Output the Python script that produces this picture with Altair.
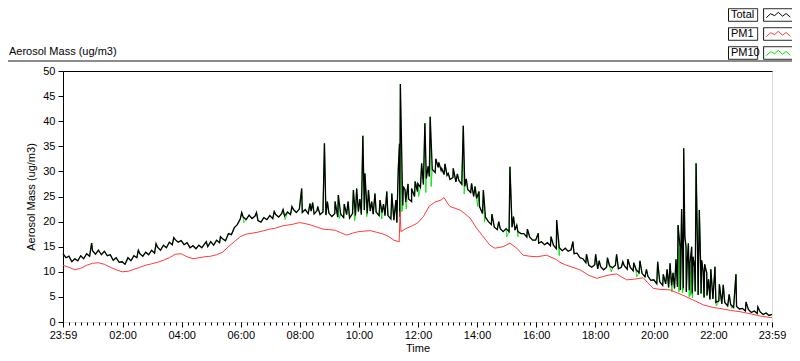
import altair as alt
import pandas as pd

# time axis: hours after 23:59 of the previous day (0 .. 24)
base_hours = [round(i * 0.1, 1) for i in range(241)]

total_base = [
    13.6, 12.8, 13.1, 12.0, 12.6, 12.2, 13.2, 12.6, 13.6, 13.1,
    14.2, 13.5, 14.3, 13.4, 14.1, 13.2, 13.4, 12.3, 12.8, 11.9,
    12.0, 11.5, 12.8, 12.2, 13.2, 12.8, 13.6, 13.1, 13.9, 13.4,
    14.3, 13.7, 14.9, 14.3, 15.3, 14.8, 15.9, 15.4, 16.4, 15.9,
    16.2, 15.4, 15.8, 14.8, 15.2, 14.6, 15.3, 14.8, 15.6, 15.0,
    16.0, 15.3, 16.3, 15.8, 16.6, 16.2, 17.6, 17.4, 18.8, 19.4,
    20.5, 20.9, 20.4, 21.3, 20.6, 21.1, 20.2, 19.9, 20.8, 20.4,
    21.2, 20.6, 21.4, 20.9, 21.6, 21.1, 21.9, 21.4, 22.4, 21.8,
    22.5, 21.8, 22.4, 21.6, 22.1, 21.5, 22.2, 21.4, 21.9, 21.3,
    21.7, 21.0, 21.6, 20.9, 21.5, 20.8, 21.4, 20.7, 21.6, 21.2,
    22.0, 21.4, 22.3, 21.6, 22.1, 21.5, 21.9, 21.2, 21.8, 21.2,
    21.2, 20.5, 20.3, 19.8, 21.0, 23.2, 23.9, 24.5, 24.0, 25.0,
    26.0, 26.8, 27.4, 28.6, 29.0, 30.4, 29.8, 30.8, 30.2, 29.4,
    29.2, 28.4, 28.8, 27.9, 28.2, 27.4, 27.0, 26.4, 25.8, 25.0,
    24.6, 23.0, 21.6, 20.9, 20.0, 19.4, 18.9, 18.4, 18.6, 18.0,
    18.6, 18.0, 18.9, 18.3, 18.0, 17.6, 17.6, 16.9, 16.9, 16.3,
    16.3, 15.7, 16.0, 15.4, 15.8, 15.2, 15.3, 14.6, 14.8, 14.2,
    14.7, 14.1, 14.4, 13.6, 13.7, 12.8, 12.6, 11.8, 11.3, 10.9,
    11.4, 10.6, 11.0, 10.4, 10.9, 11.2, 10.8, 11.3, 10.6, 10.9,
    11.2, 10.5, 10.9, 10.2, 10.4, 9.8, 9.7, 9.0, 9.1, 8.3,
    8.4, 7.6, 8.0, 7.3, 7.6, 6.9, 7.3, 6.7, 7.0, 6.4,
    6.7, 6.0, 6.4, 5.7, 6.1, 5.4, 5.7, 4.9, 5.3, 4.5,
    4.6, 3.9, 4.2, 3.6, 3.9, 3.2, 3.5, 2.9, 3.1, 2.6,
    2.7, 2.2, 2.5, 1.9, 2.2, 1.7, 2.0, 1.5, 1.8, 1.3,
    1.5,
]

spike_hours = [
    0.97, 2.55, 3.15, 3.75, 4.85, 5.33, 6.05, 6.55, 7.15, 7.45, 7.75,
    8.08, 8.36, 8.45, 8.62, 8.85, 8.95, 9.21, 9.32, 9.52, 9.65,
    9.83, 9.94, 10.05, 10.15, 10.22, 10.34, 10.45, 10.56, 10.73, 10.85,
    10.96, 11.13, 11.27, 11.35, 11.39, 11.42, 11.52, 11.58, 11.68, 11.8,
    11.92, 12.01, 12.14, 12.25, 12.36, 12.43, 12.62, 12.72, 12.82, 12.93,
    13.04, 13.21, 13.35, 13.55, 13.65, 13.83, 13.95, 14.08, 14.23, 14.52,
    14.75, 15.13, 15.25, 15.36, 15.72, 16.09, 16.52, 16.71,
    17.26, 17.72, 18.03, 18.15, 18.43, 18.74, 18.95, 19.12, 19.32, 19.53,
    19.75, 20.13, 20.32, 20.45, 20.55, 20.65, 20.75, 20.82, 20.89, 20.94,
    21.01, 21.05, 21.09, 21.13, 21.17, 21.22, 21.28, 21.33, 21.38, 21.43,
    21.48, 21.54, 21.58, 21.62, 21.67, 21.72, 21.79, 21.85, 21.93, 22.07,
    22.22, 22.35, 22.55, 22.78, 23.12, 23.52,
]
spike_values = [
    15.7, 14.3, 15.6, 16.8, 16.0, 17.0, 21.8, 21.8, 22.0, 22.4, 23.0,
    26.6, 23.6, 23.8, 23.0, 35.6, 24.0, 24.0, 25.3, 23.5, 24.0,
    26.3, 26.6, 24.5, 37.1, 29.6, 26.3, 24.0, 25.6, 24.3, 23.5,
    26.0, 25.6, 24.3, 30.6, 35.5, 47.4, 27.0, 26.3, 27.5, 26.6,
    28.0, 27.6, 31.6, 39.6, 31.0, 40.9, 32.5, 31.8, 30.6, 31.5,
    29.6, 30.6, 29.5, 39.1, 28.5, 27.6, 27.0, 26.0, 26.3, 21.5,
    20.0, 30.9, 21.0, 19.3, 18.5, 17.7, 17.0, 20.3,
    16.0, 13.5, 13.5, 12.2, 12.8, 13.5, 12.0, 12.5, 11.8, 12.2,
    10.5, 12.0, 9.5, 10.5, 11.7, 9.8, 12.5, 19.3, 14.7, 22.5,
    34.6, 17.0, 15.0, 12.0, 15.7, 11.5, 15.0, 13.0, 11.0, 31.6,
    14.0, 22.3, 12.5, 12.3, 10.0, 11.5, 9.8, 8.5, 10.5, 11.0,
    7.5, 7.4, 5.5, 9.5, 4.0, 3.0,
]

# PM10 follows Total, except at these instants where it reads lower
pm10_dip_hours = [
    6.12, 7.52, 9.35, 9.87, 10.28, 10.79, 11.47, 11.62, 12.04, 12.28,
    12.46, 13.58, 14.04, 14.27, 15.02, 15.4, 16.8, 18.56, 19.42, 20.61,
    20.85, 20.97, 21.2, 21.25, 21.31, 22.12, 22.63,
]
pm10_dip_values = [
    19.8, 20.4, 20.6, 20.2, 21.0, 20.5, 22.0, 22.5, 25.0, 25.8,
    27.0, 25.5, 23.0, 20.0, 17.0, 17.0, 13.2, 10.0, 9.0, 6.0,
    6.0, 5.8, 5.0, 5.3, 4.8, 3.2, 2.8,
]

pm1_hours = [
    0.0, 0.2, 0.4, 0.6, 0.8, 1.0, 1.2, 1.4, 1.6, 1.8,
    2.0, 2.2, 2.4, 2.6, 2.8, 3.0, 3.2, 3.4, 3.6, 3.8,
    4.0, 4.2, 4.4, 4.6, 4.8, 5.0, 5.2, 5.4, 5.6, 5.8,
    6.0, 6.2, 6.4, 6.6, 6.8, 7.0, 7.2, 7.4, 7.6, 7.8,
    8.0, 8.2, 8.4, 8.6, 8.8, 9.0, 9.2, 9.4, 9.6, 9.8,
    10.0, 10.2, 10.4, 10.6, 10.8, 11.0, 11.2, 11.38, 11.41, 11.44,
    11.6, 11.8, 12.0, 12.2, 12.4, 12.6, 12.8, 12.9, 13.0, 13.1,
    13.3, 13.44, 13.6, 13.78, 14.0, 14.2, 14.45, 14.62, 14.9, 15.13,
    15.36, 15.58, 15.8, 16.04, 16.37, 16.71, 16.82, 17.0, 17.2, 17.5,
    17.8, 18.07, 18.3, 18.52, 18.74, 18.9, 19.08, 19.3, 19.64, 19.8,
    19.98, 20.2, 20.55, 20.8, 21.11, 21.4, 21.68, 22.0, 22.24, 22.6,
    22.92, 23.3, 23.6, 23.94, 24.0,
]
pm1_values = [
    11.3, 10.9, 10.4, 10.7, 11.3, 11.7, 11.8, 11.5, 10.9, 10.4,
    10.0, 10.1, 10.5, 10.9, 11.3, 11.6, 11.9, 12.3, 12.8, 13.5,
    13.6, 13.0, 12.6, 12.8, 13.0, 13.1, 13.4, 13.9, 15.0, 16.0,
    17.0, 17.5, 17.7, 17.9, 18.2, 18.5, 18.7, 19.1, 19.3, 19.5,
    19.8, 19.6, 19.3, 18.9, 18.5, 18.4, 18.3, 17.8, 17.3, 17.7,
    18.0, 18.1, 18.2, 17.9, 17.6, 17.1, 16.3, 16.0, 22.0, 18.0,
    18.6, 19.1, 19.7, 21.0, 23.1, 23.9, 24.3, 24.8, 23.8, 23.0,
    22.6, 22.3, 21.6, 20.7, 18.7, 17.2, 15.3, 14.7, 15.0, 15.7,
    14.7, 13.3, 13.1, 13.0, 13.3, 12.4, 11.9, 11.4, 11.0, 10.4,
    9.3, 8.7, 9.1, 9.4, 9.6, 9.0, 8.4, 8.5, 8.8, 7.8,
    6.7, 6.5, 6.4, 5.8, 5.0, 4.2, 3.4, 2.9, 2.7, 2.3,
    2.05, 1.6, 1.2, 0.9, 0.9,
]

series_names = ["Total", "PM1", "PM10"]
series_colors = ["#000000", "#ff3b3b", "#00e000"]
y_ticks = [0, 5, 10, 15, 20, 25, 30, 35, 40, 45, 50]
graph_label = "Aerosol Mass (ug/m3)"

# build the long table
total_pts = sorted(list(zip(base_hours, total_base)) + list(zip(spike_hours, spike_values)))
pm10_pts = sorted(total_pts + list(zip(pm10_dip_hours, pm10_dip_values)))
rows = [{"h": h, "v": v, "series": "Total"} for h, v in total_pts]
rows += [{"h": h, "v": v, "series": "PM10"} for h, v in pm10_pts]
rows += [{"h": h, "v": v, "series": "PM1"} for h, v in zip(pm1_hours, pm1_values)]
df = pd.DataFrame(rows)

major_ticks = [0] + [2 * k + 1 / 60 for k in range(1, 12)] + [24]
minor_ticks = [(1 + 12 * k) / 60 for k in range(120)]

FONT = "Liberation Sans"
label_expr = (
    "(floor(((round(datum.value*60)+1439)%1440)/60) < 10 ? '0' : '') + "
    "floor(((round(datum.value*60)+1439)%1440)/60) + ':' + "
    "(((round(datum.value*60)+1439)%60) < 10 ? '0' : '') + "
    "((round(datum.value*60)+1439)%60)"
)

xscale = alt.Scale(domain=[0, 24], nice=False, zero=False)
yscale = alt.Scale(domain=[0, 50], nice=False)
cscale = alt.Scale(domain=series_names, range=series_colors)
dscale = alt.Scale(domain=series_names[::-1], range=[[1, 0], [1, 0], [1, 0]])

# legend symbols (unit = 6 px): zigzag sample to the right of the label, and
# the two boxes (label box + sample box) drawn by a second legend
zig = "M7.3,0.45L8.0,-0.2L8.7,0.1L9.3,-0.45L10.0,0.2L10.6,-0.25L11.3,0.35"
boxes = "M1,-1.05H5.85V1.05H1Z M6.85,-1.05H11.7V1.05H6.85Z"

x_major = alt.X("h:Q", scale=xscale, axis=alt.Axis(
    orient="bottom", values=major_ticks, labelExpr=label_expr, title="Time", tickSize=5,
    domain=False, grid=False, labelFont=FONT, labelFontSize=11, labelColor="black",
    tickColor="black", labelPadding=2, titleFont=FONT, titleFontSize=11,
    titleFontWeight="normal", titleColor="black", titlePadding=2, labelFlush=False,
    labelOverlap=False))
x_minor = alt.X("h:Q", scale=xscale, axis=alt.Axis(
    orient="bottom", values=minor_ticks, labels=False, title=None, tickSize=3,
    domain=False, grid=False, tickColor="black"))
x_top = alt.X("h:Q", scale=xscale, axis=alt.Axis(
    orient="top", labels=False, ticks=False, title=None, domain=True,
    domainColor="black", grid=False))
y_left = alt.Y("v:Q", scale=yscale, axis=alt.Axis(
    values=y_ticks, title=graph_label, tickSize=5, domainColor="black",
    tickColor="black", grid=False, labelFont=FONT, labelFontSize=11, labelColor="black",
    labelPadding=3, titleFont=FONT, titleFontSize=11, titleFontWeight="normal",
    titleColor="black", titlePadding=6))

legend_common = dict(
    title=None, orient="none", legendX=653, legendY=-62.5, symbolSize=144,
    symbolStrokeWidth=1, symbolFillColor="transparent", labelFont=FONT,
    labelFontSize=11, labelColor="black", labelAlign="left", labelOffset=2,
    padding=0)
color_legend = alt.Legend(symbolType=zig, rowPadding=7, **legend_common)
box_legend = alt.Legend(symbolType=boxes, symbolStrokeColor="black", labelExpr="''",
                        rowPadding=2, **legend_common)

base = alt.Chart(df)
green = base.transform_filter(alt.datum.series == "PM10").mark_line(strokeWidth=1).encode(
    x=x_major, y=y_left,
    color=alt.Color("series:N", scale=cscale, legend=color_legend),
    strokeDash=alt.StrokeDash("series:N", scale=dscale, legend=box_legend))
black = base.transform_filter(alt.datum.series == "Total").mark_line(strokeWidth=1.3).encode(
    x=x_minor, y=alt.Y("v:Q", scale=yscale, axis=None),
    color=alt.Color("series:N", scale=cscale, legend=None))
red = base.transform_filter(alt.datum.series == "PM1").mark_line(strokeWidth=1).encode(
    x=x_top, y=alt.Y("v:Q", scale=yscale, axis=None),
    color=alt.Color("series:N", scale=cscale, legend=None))

deco = alt.Chart(pd.DataFrame({"label": [graph_label]}))
frame = deco.mark_rule(color="#8c8c8c", strokeWidth=2).encode(
    x=alt.value(-55), x2=alt.value(729), y=alt.value(-10))
title_text = deco.mark_text(align="left", baseline="alphabetic", font=FONT, fontSize=11,
                            color="black").encode(
    x=alt.value(-54), y=alt.value(-16), text="label:N")

chart = alt.layer(frame, title_text, green, black, red).resolve_axis(
    x="independent", y="independent").properties(
    width=709, height=251,
    autosize=alt.AutoSizeParams(type="none"),
    padding={"left": 55, "top": 63, "right": 20, "bottom": 31},
).configure_view(stroke="#808080", strokeWidth=1).configure(background="white")

chart.save("out.html", embed_options={"renderer": "svg", "actions": False})
